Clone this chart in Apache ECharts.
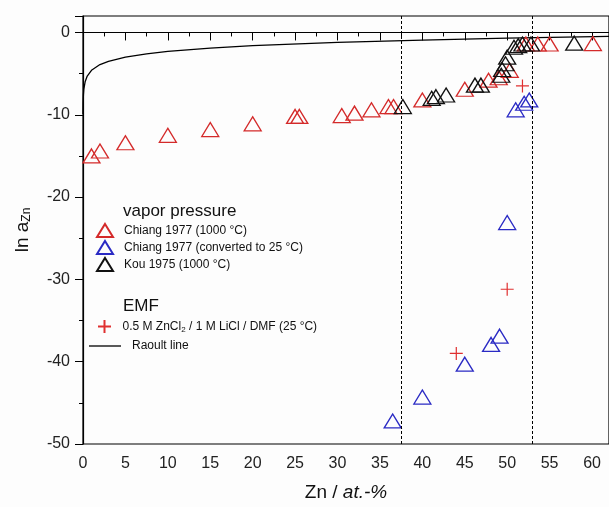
<!DOCTYPE html>
<html>
<head>
<meta charset="utf-8">
<script src="https://cdn.jsdelivr.net/npm/echarts@6/dist/echarts.min.js"></script>
<style>html,body{margin:0;padding:0;background:#fff;}#c{width:609px;height:507px;}</style>
</head>
<body>
<div id="c"></div>
<script>
// Data: [Zn at.-%, ln a_Zn]
const chiang1000 = [[1,-15.0],[2,-14.4],[5,-13.4],[10,-12.5],[15,-11.8],[20,-11.1],[25,-10.2],[25.5,-10.2],[30.5,-10.1],[32,-9.8],[34,-9.4],[36,-9.0],[36.6,-9.0],[40,-8.2],[45,-6.9],[47.8,-5.8],[49,-5.5],[50.3,-4.6],[52.2,-1.4],[53.6,-1.4],[55,-1.4],[60.1,-1.35]];
const chiang25 = [[36.5,-47.2],[40,-44.3],[45,-40.3],[48.1,-37.9],[49.1,-36.9],[50,-23.1],[51,-9.4],[52,-8.6],[52.6,-8.2]];
const kou1000 = [[37.7,-9.0],[41.1,-8.0],[41.6,-7.8],[42.8,-7.6],[46.2,-6.4],[46.9,-6.4],[49.3,-5.2],[49.4,-4.5],[49.8,-3.8],[50.0,-3.0],[50.8,-1.8],[51.3,-1.6],[51.8,-1.4],[52.8,-1.4],[57.9,-1.3]];
const emf = [[44,-39.0],[50,-31.2],[51.8,-6.5]];
const raoult = [[0.005,-9.9],[0.02,-8.5],[0.05,-7.6],[0.1,-6.9],[0.25,-6.0],[0.5,-5.3],[1,-4.6],[2,-3.9],[3,-3.5],[5,-3.0],[7.5,-2.6],[10,-2.3],[15,-1.9],[20,-1.6],[30,-1.2],[40,-0.92],[50,-0.69],[62,-0.48]];
const phaseBounds = [37.5, 53];
const seriesNames = ['Chiang 1977 (1000 °C)','Chiang 1977 (converted to 25 °C)','Kou 1975 (1000 °C)','EMF','Raoult line'];

const chart = echarts.init(document.getElementById('c'), null, {renderer:'canvas'});
const FONT = 'Liberation Sans, Arial, sans-serif';
const RED = '#d42a2a', BLUE = '#2a2ac4', BLACK = '#111';
const tri = {symbol:'triangle', symbolSize:[17,14]};
const hollow = c => ({color:'rgba(0,0,0,0)', borderColor:c, borderWidth:1.3, opacity:1});
const plusPath = 'path://M5,0 L5,10 M0,5 L10,5';
const legText = {fontFamily:FONT, fontSize:12, color:'#111', padding:[0,0,0,6]};

chart.setOption({
  backgroundColor:'#fdfdfd',
  animation:false,
  textStyle:{fontFamily:FONT},
  grid:{left:83, top:16, right:0, bottom:62, show:true, borderColor:'#000', borderWidth:1.2, backgroundColor:'transparent'},
  title:[
    {text:'vapor pressure', left:118, top:198, textStyle:{fontFamily:FONT, fontSize:17, fontWeight:'normal', color:'#111'}},
    {text:'EMF', left:118, top:293, textStyle:{fontFamily:FONT, fontSize:17, fontWeight:'normal', color:'#111'}}
  ],
  legend:[
    {data:seriesNames.slice(0,3), orient:'vertical', left:91, top:218, itemWidth:16, itemHeight:13, itemGap:2,
     textStyle:legText, selectedMode:false},
    {data:[seriesNames[3]], orient:'vertical', left:92, top:314, itemWidth:14, itemHeight:13,
     formatter:()=>'0.5 M ZnCl{s|2} / 1 M LiCl / DMF (25 °C)',
     textStyle:Object.assign({}, legText, {rich:{s:{fontSize:8, verticalAlign:'bottom', padding:[6,0,0,0], fontFamily:FONT, color:'#111'}}}), selectedMode:false},
    {data:[{name:seriesNames[4], icon:'rect', itemStyle:{color:'#000'}}], orient:'vertical', left:84, top:335, itemWidth:32, itemHeight:1.3,
     textStyle:legText, selectedMode:false}
  ],
  xAxis:{type:'value', min:0, max:62, interval:5,
    name:'{a|Zn / }{b|at.-%}', nameLocation:'middle', nameGap:39,
    nameTextStyle:{rich:{a:{fontFamily:FONT, fontSize:19, color:'#111'}, b:{fontFamily:FONT, fontSize:19, fontStyle:'italic', color:'#111'}}},
    axisLine:{lineStyle:{color:'#000', width:1.2}},
    axisTick:{length:8, lineStyle:{color:'#000'}},
    minorTick:{show:true, splitNumber:2, length:4, lineStyle:{color:'#000'}},
    axisLabel:{fontFamily:FONT, fontSize:16, color:'#222', margin:12, showMaxLabel:false},
    splitLine:{show:false}},
  yAxis:{type:'value', min:-50, max:2, interval:10,
    name:'{a|ln a}{s|Zn}', nameLocation:'middle', nameGap:50, nameRotate:90,
    nameTextStyle:{rich:{a:{fontFamily:FONT, fontSize:19, color:'#111'}, s:{fontFamily:FONT, fontSize:12, color:'#111', verticalAlign:'bottom', padding:[8,0,0,0]}}},
    axisLine:{lineStyle:{color:'#000', width:1.2}},
    axisTick:{length:8, lineStyle:{color:'#000'}},
    minorTick:{show:true, splitNumber:2, length:4, lineStyle:{color:'#000'}},
    axisLabel:{fontFamily:FONT, fontSize:16, color:'#222', margin:13, showMaxLabel:false},
    splitLine:{show:false}},
  series:[
    {name:seriesNames[0], type:'scatter', data:chiang1000, ...tri, itemStyle:hollow(RED), z:3},
    {name:seriesNames[1], type:'scatter', data:chiang25, ...tri, itemStyle:hollow(BLUE), z:3},
    {name:seriesNames[2], type:'scatter', data:kou1000, ...tri, itemStyle:hollow(BLACK), z:4},
    {name:seriesNames[3], type:'scatter', data:emf, symbol:plusPath, symbolSize:13,
      itemStyle:{color:'rgba(0,0,0,0)', borderColor:'#e03030', borderWidth:1.2, opacity:1}, z:5},
    {name:seriesNames[4], type:'line', data:raoult, showSymbol:false, symbol:'none', smooth:false,
      lineStyle:{color:'#000', width:1.3}, itemStyle:{color:'#000'}, z:2,
      markLine:{silent:true, symbol:'none', label:{show:false},
        lineStyle:{color:'#000', type:[3,2], width:1},
        data:phaseBounds.map(v=>({xAxis:v}))}}
  ]
});
</script>
</body>
</html>
